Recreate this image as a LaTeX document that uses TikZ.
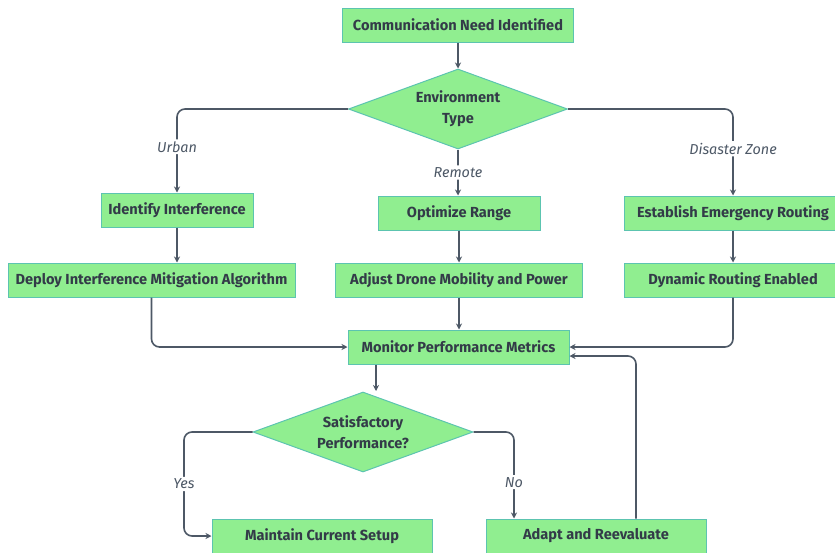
\documentclass[tikz,border=0pt]{standalone}
\usepackage{fontspec}
\setmainfont{Fira Sans}
\usetikzlibrary{shapes.geometric,arrows.meta,positioning,calc}
\definecolor{boxfill}{HTML}{90EE90}
\definecolor{boxline}{HTML}{5CC4B0}
\definecolor{txt}{HTML}{333B48}
\definecolor{conn}{HTML}{4D5866}
\tikzset{
  box/.style={rectangle,draw=boxline,fill=boxfill,line width=1pt,minimum height=34pt,inner sep=0pt,font=\fontsize{14.6}{16}\selectfont\bfseries,text=txt},
  dia/.style={diamond,aspect=2.75,draw=boxline,fill=boxfill,line width=1pt,inner sep=0pt,minimum width=219pt,minimum height=80pt,font=\fontsize{14.6}{21}\selectfont\bfseries,text=txt,align=center},
  conn/.style={draw=conn,line width=1.6pt,rounded corners=8pt,-{Stealth[length=6pt,width=6pt]}},
  lbl/.style={fill=white,inner sep=2pt,font=\fontsize{14.4}{16}\selectfont\itshape,text=conn}
}
\begin{document}
\begin{tikzpicture}[x=1pt,y=-1pt]
\useasboundingbox[fill=white] (0,0) rectangle (835,552);
\node[box,minimum width=231pt] (n1) at (458,25) {Communication Need Identified};
\node[dia] (env) at (458,109) {Environment\\Type};
\node[box,minimum width=152pt] (ii) at (177,210) {Identify Interference};
\node[box,minimum width=287pt] (dim) at (151.5,280) {Deploy Interference Mitigation Algorithm};
\node[box,minimum width=162pt] (opt) at (459,213) {Optimize Range};
\node[box,minimum width=247pt] (adj) at (459,280) {Adjust Drone Mobility and Power};
\node[box,minimum width=221pt] (mon) at (458.5,347) {Monitor Performance Metrics};
\node[box,minimum width=218pt] (eer) at (733,213) {Establish Emergency Routing};
\node[box,minimum width=218pt] (dre) at (733,280) {Dynamic Routing Enabled};
\node[dia,minimum width=220pt] (sat) at (363,432) {Satisfactory\\Performance?};
\node[box,minimum width=220pt] (mcs) at (322,536) {Maintain Current Setup};
\node[box,minimum width=220pt] (ar) at (596,536) {Adapt and Reevaluate};

\draw[conn] (n1) -- (env);
\draw[conn] (env.west) -| node[lbl,pos=0.726]{Urban} (ii.north);
\draw[conn] (env.south) -- node[lbl,pos=0.5]{Remote} (env.south |- opt.north);
\draw[conn] (env.east) -| node[lbl,pos=0.73]{Disaster Zone} (eer.north);
\draw[conn] (ii.south) -- (ii.south |- dim.north);
\draw[conn] (opt.south) -- (opt.south |- adj.north);
\draw[conn] (eer) -- (dre);
\draw[conn] (adj.south) -- (adj.south |- mon.north);
\draw[conn] (dim.south) |- (mon.west);
\draw[conn] (dre.south) |- (mon.east);
\draw[conn] (mon.south -| 376,0) -- (376,391);
\draw[conn] (sat.west) -- (184,432) |- node[lbl,pos=0.25]{Yes} (mcs.west);
\draw[conn] (sat.east) -| node[lbl,pos=0.79]{No} (ar.north -| 514,0);
\draw[conn] (ar.north -| 636,0) |- ([yshift=-9pt]mon.east);
\end{tikzpicture}
\end{document}
